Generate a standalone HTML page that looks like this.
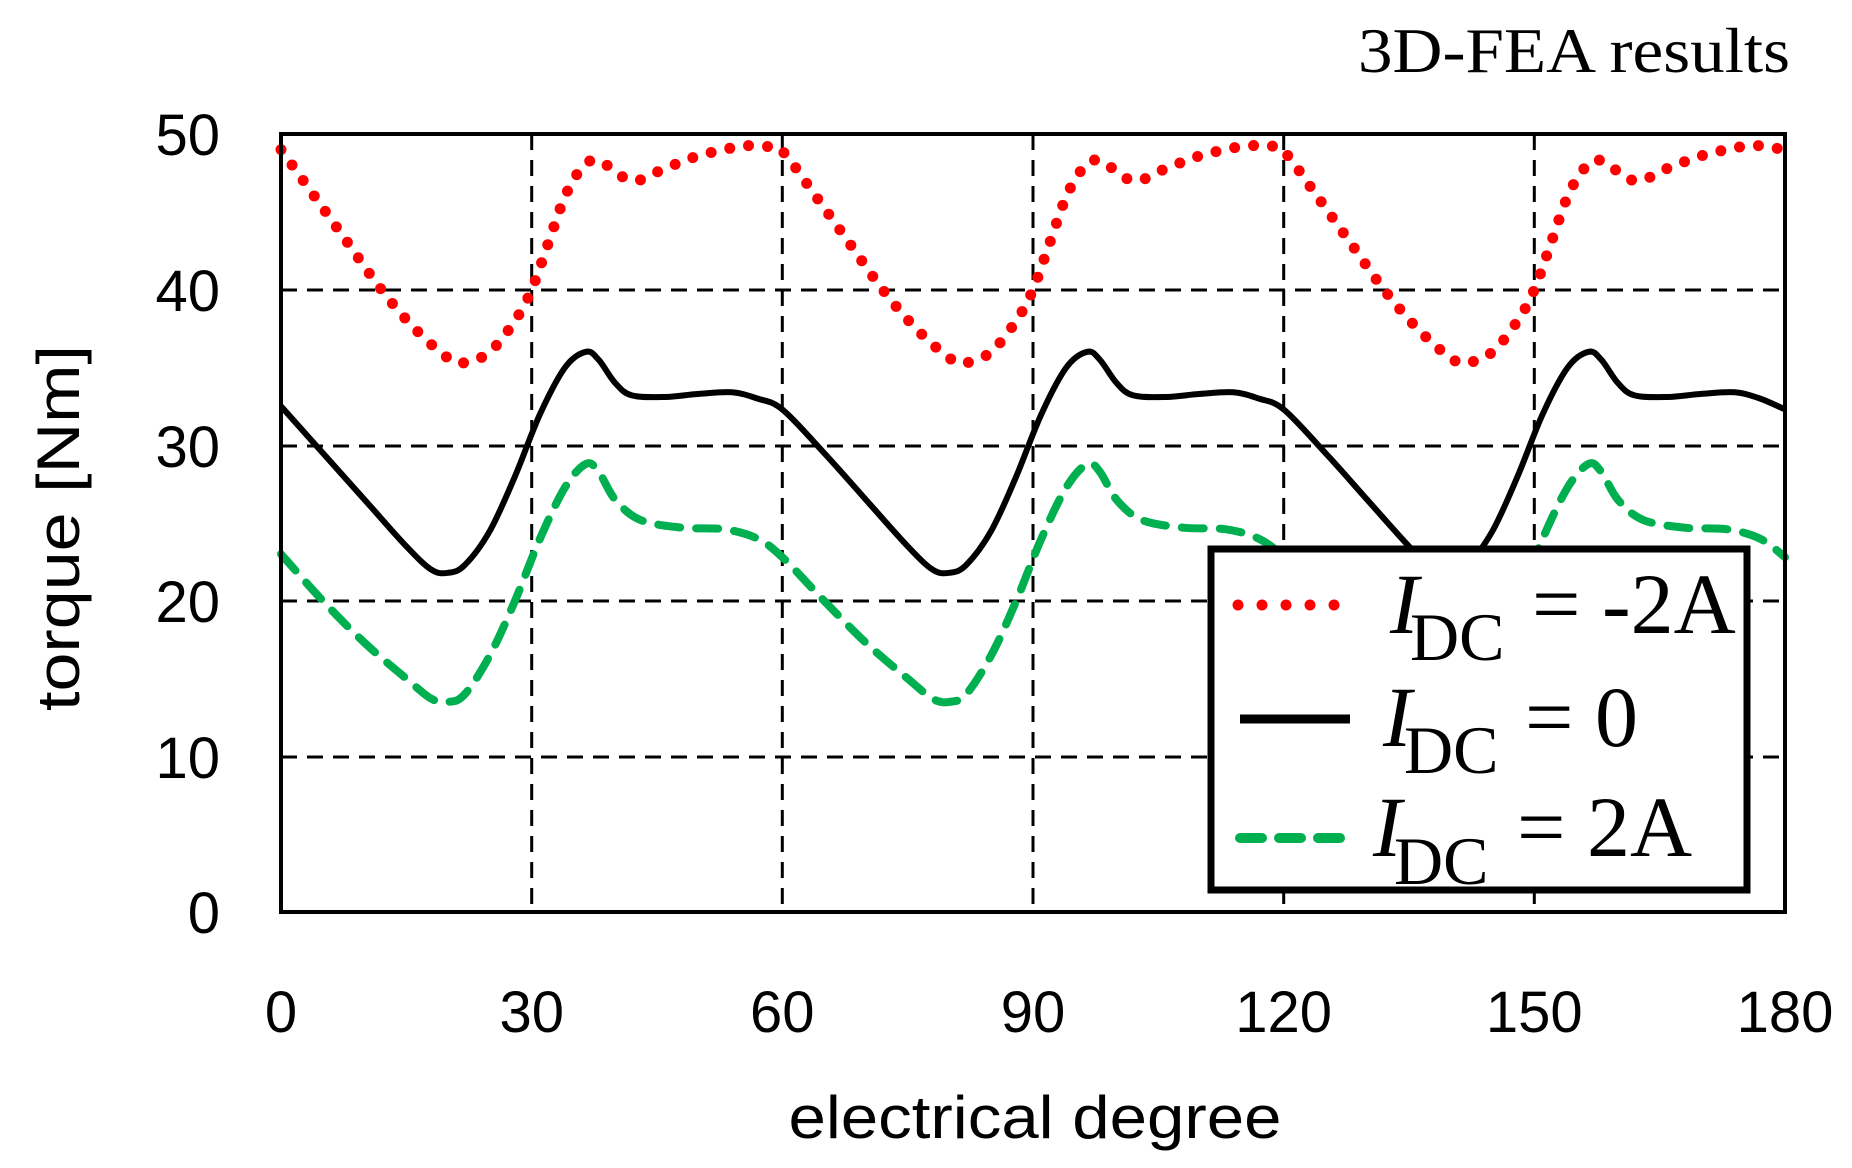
<!DOCTYPE html>
<html><head><meta charset="utf-8"><style>html,body{margin:0;padding:0;background:#fff}svg{display:block}</style></head>
<body>
<svg id="s" width="1852" height="1168" viewBox="0 0 1852 1168" xmlns="http://www.w3.org/2000/svg">
<rect width="1852" height="1168" fill="#fff"/>
<text x="1790" y="72" font-family="Liberation Serif, serif" font-size="64" text-anchor="end" fill="#000" textLength="432" lengthAdjust="spacingAndGlyphs">3D-FEA results</text>
<g id="grid" stroke="#000" stroke-width="3" stroke-dasharray="16 10" fill="none">
<line x1="281" y1="290" x2="1785" y2="290"/>
<line x1="281" y1="446" x2="1785" y2="446"/>
<line x1="281" y1="601" x2="1785" y2="601"/>
<line x1="281" y1="757" x2="1785" y2="757"/>
<line x1="531.7" y1="134" x2="531.7" y2="912"/>
<line x1="782.3" y1="134" x2="782.3" y2="912"/>
<line x1="1033" y1="134" x2="1033" y2="912"/>
<line x1="1283.7" y1="134" x2="1283.7" y2="912"/>
<line x1="1534.3" y1="134" x2="1534.3" y2="912"/>
</g>
<g id="curves"></g>
<rect x="281" y="134" width="1504" height="778" fill="none" stroke="#000" stroke-width="4"/>
<g font-family="Liberation Sans, sans-serif" font-size="58" fill="#000" text-anchor="end">
<text x="220" y="155">50</text><text x="220" y="311">40</text><text x="220" y="467">30</text>
<text x="220" y="622">20</text><text x="220" y="778">10</text><text x="220" y="933">0</text>
</g>
<g font-family="Liberation Sans, sans-serif" font-size="58" fill="#000" text-anchor="middle">
<text x="281" y="1032">0</text><text x="531.7" y="1032">30</text><text x="782.3" y="1032">60</text>
<text x="1033" y="1032">90</text><text x="1283.7" y="1032">120</text><text x="1534.3" y="1032">150</text><text x="1785" y="1032">180</text>
</g>
<text x="1035" y="1138" font-family="Liberation Sans, sans-serif" font-size="60" text-anchor="middle" textLength="493" lengthAdjust="spacingAndGlyphs">electrical degree</text>
<text transform="translate(79,528) rotate(-90)" font-family="Liberation Sans, sans-serif" font-size="60" text-anchor="middle" textLength="366" lengthAdjust="spacingAndGlyphs">torque [Nm]</text>
<rect x="1211" y="549" width="536" height="341" fill="#fff" stroke="#000" stroke-width="7"/>
<line x1="1238" y1="605" x2="1351" y2="605" stroke="#f00" stroke-width="11" stroke-linecap="round" stroke-dasharray="0 24"/>
<line x1="1240" y1="719" x2="1350" y2="719" stroke="#000" stroke-width="9"/>
<line x1="1240" y1="838" x2="1350" y2="838" stroke="#00b050" stroke-width="10" stroke-linecap="round" stroke-dasharray="22 17"/>
<g font-family="Liberation Serif, serif" fill="#000">
<text x="1390" y="633" font-size="86" font-style="italic">I</text>
<text x="1410" y="660" font-size="68">DC</text>
<text x="1532" y="633" font-size="86">= -2A</text>
<text x="1383" y="746" font-size="86" font-style="italic">I</text>
<text x="1404" y="773" font-size="68">DC</text>
<text x="1525" y="746" font-size="86">= 0</text>
<text x="1373" y="856" font-size="86" font-style="italic">I</text>
<text x="1394" y="884" font-size="68">DC</text>
<text x="1517" y="856" font-size="86">= 2A</text>
</g>
</svg>
<script>
(function(){
var X=function(d){return 281+d*1504/180;},Y=function(v){return 912-v*778/50;};
var black=[[0,32.5],[5,29.5],[10,26.5],[15,23.5],[18,22],[20,21.8],[22,22.3],[25,24.5],[28,28],[31,32],[34,35],[36.5,36],[38,35.5],[40,34],[42,33.2],[46,33.1],[50,33.3],[54,33.4],[57,33],[60,32.3]];
var red=[[0,49],[4,46],[8,43],[12,40],[16,37.5],[20,35.6],[22,35.3],[25,36],[28,38],[30,40],[32,43],[34,46],[36,47.8],[38,48.3],[42,47],[46,47.8],[50,48.6],[55,49.2],[58,49.2],[60,48.9]];
var green=[[0,23],[5,20],[10,17.3],[15,15],[18,13.7],[20,13.5],[22,14],[25,16.5],[28,20],[31,24],[34,27.3],[36.5,28.8],[38,28.3],[40,26.5],[43,25.2],[48,24.7],[53,24.6],[57,24],[60,22.8]];
function ext(a){var r=[];for(var p=0;p<3;p++){a.forEach(function(q,i){if(p>0&&i==0)return;r.push([X(q[0]+60*p),Y(q[1])]);});}return r;}
function path(pts){var d="M"+pts[0][0].toFixed(1)+","+pts[0][1].toFixed(1);
for(var i=0;i<pts.length-1;i++){var p0=pts[i-1]||pts[i],p1=pts[i],p2=pts[i+1],p3=pts[i+2]||p2;
var c1=[p1[0]+(p2[0]-p0[0])/6,p1[1]+(p2[1]-p0[1])/6],c2=[p2[0]-(p3[0]-p1[0])/6,p2[1]-(p3[1]-p1[1])/6];
d+=" C"+c1[0].toFixed(1)+","+c1[1].toFixed(1)+" "+c2[0].toFixed(1)+","+c2[1].toFixed(1)+" "+p2[0].toFixed(1)+","+p2[1].toFixed(1);}
return d;}
var g=document.getElementById("curves"),ns="http://www.w3.org/2000/svg";
function add(a,attrs){var p=document.createElementNS(ns,"path");p.setAttribute("d",path(ext(a)));p.setAttribute("fill","none");for(var k in attrs)p.setAttribute(k,attrs[k]);g.appendChild(p);}
add(red,{stroke:"#f00","stroke-width":"11","stroke-linecap":"round","stroke-dasharray":"0 19"});
add(black,{stroke:"#000","stroke-width":"6"});
add(green,{stroke:"#00b050","stroke-width":"8","stroke-linecap":"round","stroke-dasharray":"22 16"});
})();
</script>
</body></html>
